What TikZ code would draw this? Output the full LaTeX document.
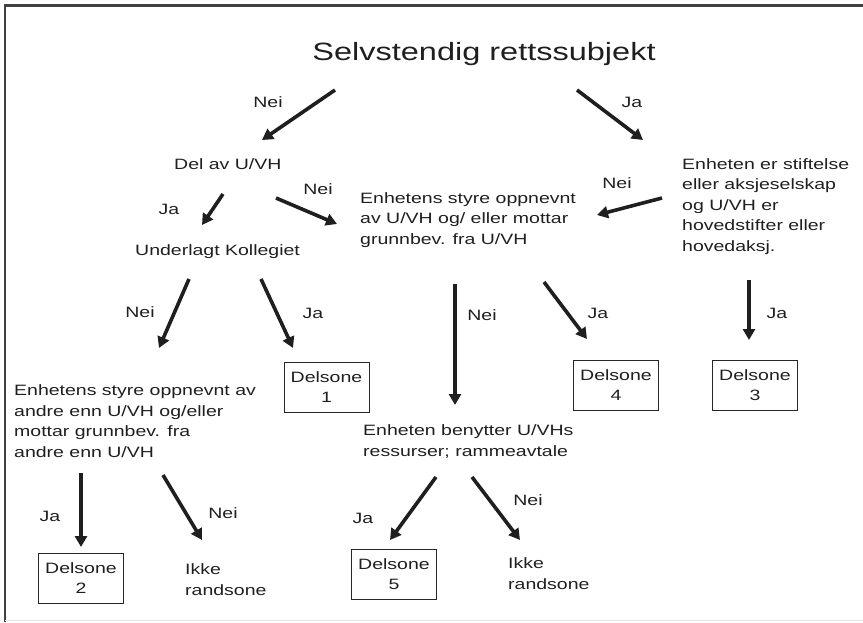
\documentclass[tikz,border=0pt]{standalone}
\usepackage{fontspec}
\setmainfont{Liberation Sans}[FakeStretch=1.3]
\usetikzlibrary{arrows.meta}
\begin{document}
\begin{tikzpicture}[x=1pt,y=-1pt,
  txt/.style={inner sep=0pt,anchor=base west,align=left,text=black!88,
     font=\fontsize{15}{20.5}\selectfont},
  lbl/.style={inner sep=0pt,text=black!88,font=\fontsize{15}{18}\selectfont},
  zone/.style={draw=black!85,line width=1pt,minimum width=85pt,minimum height=50pt,
     inner sep=0pt,align=center,text=black!88,font=\fontsize{15}{20}\selectfont},
  arr/.style={line width=3.6pt,black!88,-{Triangle[length=11pt,width=12pt]}}]
\useasboundingbox (0,0) rectangle (863,622);
% frame
\draw[line width=2.5pt,black!75] (863,5.5) -- (5,5.5) -- (5,622);
\draw[line width=1pt,black!10] (5,620) -- (863,620);

% title
\node[inner sep=0pt,anchor=base,text=black!88,font=\fontsize{25}{30}\selectfont] (title) at (484,60) {Selvstendig rettssubjekt};

% texts (anchor = baseline of the last line)
\node[txt] (del) at (174,169) {Del av U/VH};
\node[txt] (kol) at (135,255) {Underlagt Kollegiet};
\node[txt] (styreA) at (360,244) {Enhetens styre oppnevnt\\av U/VH og/ eller mottar\\grunnbev. fra U/VH};
\node[txt] (stift) at (682,251) {Enheten er stiftelse\\eller aksjeselskap\\og U/VH er\\hovedstifter eller\\hovedaksj.};
\node[txt] (styreB) at (14,457) {Enhetens styre oppnevnt av\\andre enn U/VH og/eller\\mottar grunnbev. fra\\andre enn U/VH};
\node[txt] (ress) at (363,456) {Enheten benytter U/VHs\\ressurser; rammeavtale};
\node[txt] (ikkeA) at (185,595) {Ikke\\randsone};
\node[txt] (ikkeB) at (508,589) {Ikke\\randsone};

% zones
\node[zone] (d1) at (326.5,387) {Delsone\\1};
\node[zone] (d2) at (81,578.5) {Delsone\\2};
\node[zone] (d3) at (755,385.5) {Delsone\\3};
\node[zone] (d4) at (616,385.5) {Delsone\\4};
\node[zone] (d5) at (394,574) {Delsone\\5};

% labels
\node[lbl] (l1) at (268,102) {Nei};
\node[lbl] (l2) at (632,102) {Ja};
\node[lbl] (l3) at (169,209) {Ja};
\node[lbl] (l4) at (318,189) {Nei};
\node[lbl] (l5) at (617,183) {Nei};
\node[lbl] (l6) at (140,312) {Nei};
\node[lbl] (l7) at (313,313) {Ja};
\node[lbl] (l8) at (482,315) {Nei};
\node[lbl] (l9) at (598,313) {Ja};
\node[lbl] (l10) at (777,313) {Ja};
\node[lbl] (l11) at (50,516) {Ja};
\node[lbl] (l12) at (223,513) {Nei};
\node[lbl] (l13) at (363,518) {Ja};
\node[lbl] (l14) at (528,500) {Nei};

% arrow end points
\coordinate (a1s) at (335,90);  \coordinate (a1e) at (262,140);
\coordinate (a2s) at (577,90);  \coordinate (a2e) at (643,140);
\coordinate (a3s) at (223,194); \coordinate (a3e) at (202,225);
\coordinate (a4s) at (276,198); \coordinate (a4e) at (337,224);
\coordinate (a5s) at (662,198); \coordinate (a5e) at (597,215);
\coordinate (a6s) at (189,279); \coordinate (a6e) at (159,348);
\coordinate (a7s) at (261,279); \coordinate (a7e) at (293,348);
\coordinate (a8s) at (455,284); \coordinate (a8e) at (455,405);
\coordinate (a9s) at (544,282); \coordinate (a9e) at (587,339);
\coordinate (a10s) at (749,280); \coordinate (a10e) at (749,340);
\coordinate (a11s) at (81,473); \coordinate (a11e) at (81,547);
\coordinate (a12s) at (163,475); \coordinate (a12e) at (202,540);
\coordinate (a13s) at (436,477); \coordinate (a13e) at (390,540);
\coordinate (a14s) at (472,477); \coordinate (a14e) at (520,540);

\foreach \i in {1,...,14} {\draw[arr] (a\i s) -- (a\i e);}
\end{tikzpicture}
\end{document}
